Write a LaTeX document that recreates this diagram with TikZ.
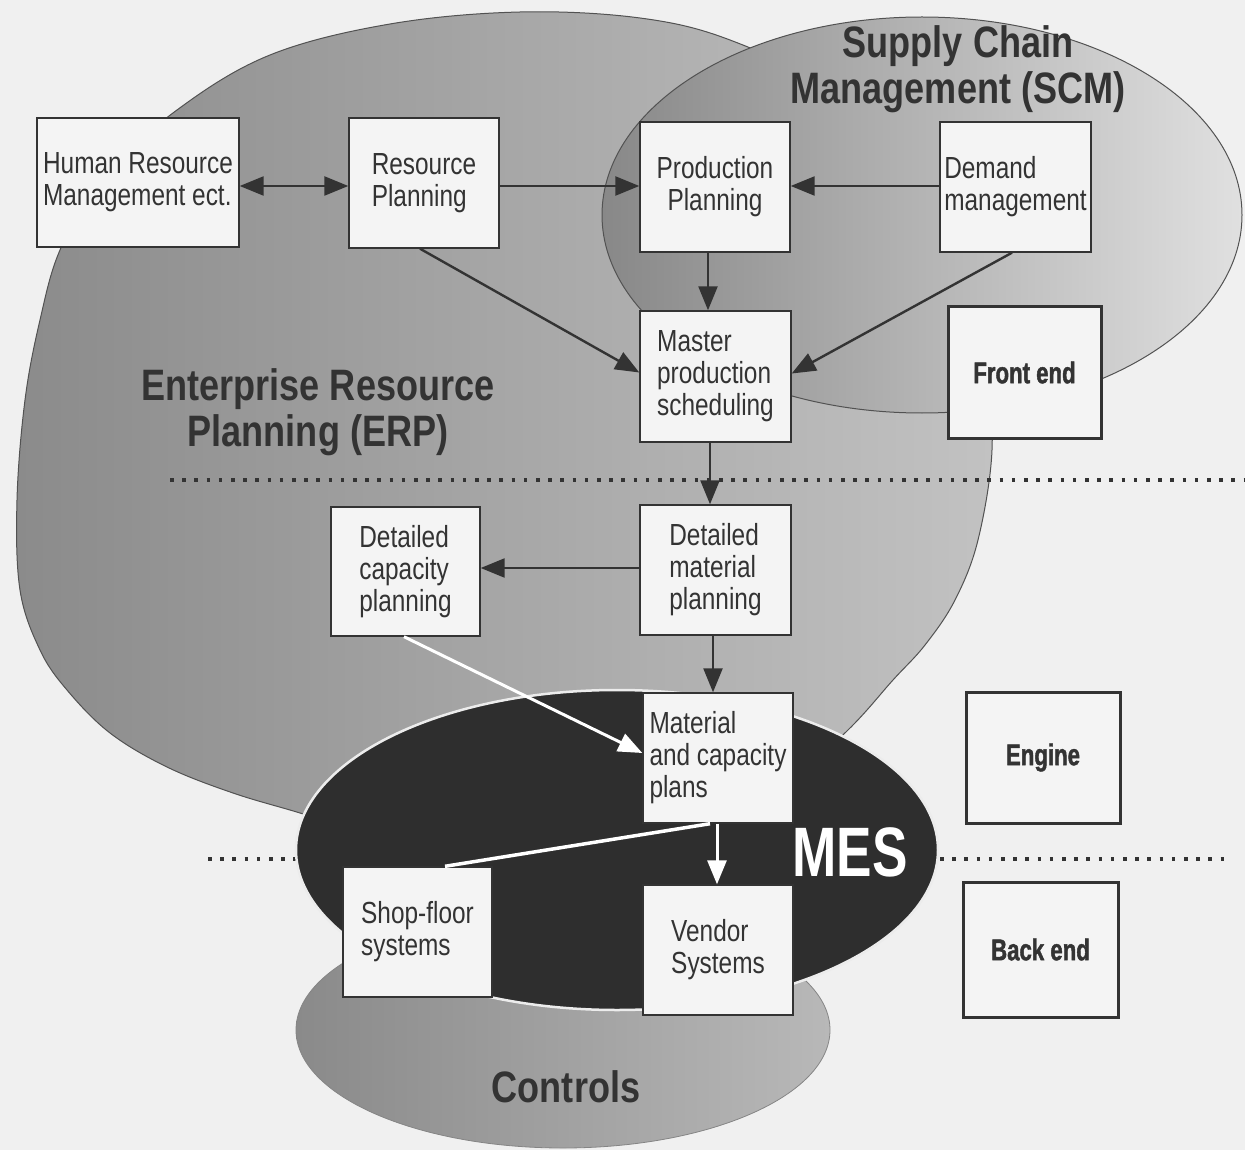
\documentclass[tikz,border=0pt]{standalone}
\usepackage{fontspec}
\setmainfont{Liberation Sans}[FakeStretch=0.80]
\newfontfamily\titlefont{Liberation Sans}[FakeStretch=0.82]
\newfontfamily\mesfont{Liberation Sans}[FakeStretch=0.76]
\newfontfamily\heavyfont{Liberation Sans}[FakeStretch=0.74,FakeBold=1.4]
\usetikzlibrary{arrows.meta,calc}
\definecolor{bgc}{HTML}{F0F0F0}
\definecolor{ink}{HTML}{333333}
\definecolor{boxfill}{HTML}{F4F4F4}
\definecolor{erpL}{HTML}{8B8B8B}
\definecolor{erpR}{HTML}{C2C2C2}
\definecolor{scmL}{HTML}{888888}
\definecolor{scmR}{HTML}{E0E0E0}
\definecolor{ctlL}{HTML}{8A8A8A}
\definecolor{ctlR}{HTML}{B8B8B8}
\definecolor{mesc}{HTML}{2E2E2E}
\begin{document}
\begin{tikzpicture}[x=1pt,y=-1pt,
  box/.style={draw=ink, line width=1.4pt, fill=boxfill, inner sep=0pt, text=ink,
    font=\fontsize{30.5}{32}\selectfont, align=left},
  tbox/.style={draw=ink, line width=3pt, fill=boxfill, inner sep=0pt, text=ink,
    font=\heavyfont\bfseries\fontsize{30}{32}\selectfont},
  arr/.style={draw=ink, line width=2.4pt, -{Triangle[length=24pt,width=19pt]}},
  darr/.style={draw=ink, line width=2.4pt, {Triangle[length=24pt,width=19pt]}-{Triangle[length=24pt,width=19pt]}},
  warr/.style={draw=white, line width=3pt, -{Triangle[length=24pt,width=19pt,fill=white]}},
  wline/.style={draw=white, line width=3.5pt},
  dotline/.style={draw=ink, line width=3.5pt, dash pattern=on 3.5pt off 8.7pt},
  bigtitle/.style={text=ink, font=\titlefont\bfseries\fontsize{44}{46.5}\selectfont, align=center, inner sep=0pt}
]
\useasboundingbox (0,0) rectangle (1245,1150);
\fill[bgc] (0,0) rectangle (1245,1150);

% ERP region
\path[draw=ink!85, line width=1pt, left color=erpL, right color=erpR]
  plot[smooth cycle, tension=0.6] coordinates {
  (520,12) (640,18) (730,40) (830,90) (910,170) (960,270) (985,370) (992,450)
  (978,540) (955,600) (925,645) (893,680) (848,730) (780,790) (700,830)
  (600,850) (470,850) (370,835) (300,813) (233,793) (167,767) (110,733)
  (67,690) (40,650) (20,590) (17,500) (25,400) (40,320) (60,250) (100,180)
  (177,110) (270,55) (390,24)};

% SCM region
\path[draw=ink!85, line width=1pt, left color=scmL, right color=scmR]
  (922,215) ellipse [x radius=320, y radius=198];

% dotted separators
\draw[dotline] (170,480) -- (1245,480);
\draw[dotline] (208,859) -- (1228,859);

% Controls and MES
\path[draw=ink!60, line width=0.8pt, left color=ctlL, right color=ctlR]
  (563,1030) ellipse [x radius=267, y radius=118];
\path[fill=mesc, draw=white!85!gray, line width=2.5pt]
  (617,850) ellipse [x radius=321, y radius=160];

% region titles
\node[bigtitle] (erpt) at (318,412) {Enterprise Resource\\Planning (ERP)};
\node[bigtitle] (scmt) at (958,69) {Supply Chain\\Management (SCM)};
\node[bigtitle] (ctlt) at (566,1087) {Controls};
\node[text=white, inner sep=0pt, font=\mesfont\bfseries\fontsize{70}{70}\selectfont] (mest) at (850,852) {MES};

% boxes
\node[box, minimum width=202, minimum height=129] (hr) at (138,182.5) {Human Resource\\Management ect.};
\node[box, minimum width=150, minimum height=130] (rp) at (424,183) {Resource\\Planning};
\node[box, minimum width=150, minimum height=130, align=center] (pp) at (715,187) {Production\\Planning};
\node[box, minimum width=151, minimum height=130] (dm) at (1015.5,187) {Demand\\management};
\node[box, minimum width=151, minimum height=131] (mps) at (715.5,376.5) {Master\\production\\scheduling};
\node[tbox, minimum width=153, minimum height=131] (fe) at (1024.5,372.5) {Front end};
\node[box, minimum width=149, minimum height=129] (dcp) at (405.5,571.5) {Detailed\\capacity\\planning};
\node[box, minimum width=151, minimum height=130] (dmp) at (715.5,570) {Detailed\\material\\planning};
\node[box, minimum width=150, minimum height=130] (mcp) at (718,758) {Material\\and capacity\\plans};
\node[tbox, minimum width=154, minimum height=131] (eng) at (1043,757.5) {Engine};
\node[box, minimum width=149, minimum height=130] (sfs) at (417.5,932) {Shop-floor\\systems};
\node[box, minimum width=150, minimum height=130] (vs) at (718,950) {Vendor\\Systems};
\node[tbox, minimum width=155, minimum height=135] (be) at (1040.5,949.5) {Back end};

% black connectors
\draw[darr] ($(hr.east)+(0,3.5)$) -- ($(rp.west)+(0,3)$);
\draw[arr] ($(rp.east)+(0,3)$) -- ($(pp.west)+(0,-1)$);
\draw[arr] ($(dm.west)+(0,-1)$) -- ($(pp.east)+(0,-1)$);
\draw[arr] ($(pp.south)+(-7,0)$) -- ($(mps.north)+(-7.5,0)$);
\draw[arr] ($(rp.south)+(-4,0)$) -- ($(mps.west)+(0,-4)$);
\draw[arr] ($(dm.south)+(-3.5,0)$) -- ($(mps.east)+(0,-3)$);
\draw[arr] ($(mps.south)+(-5.5,0)$) -- ($(dmp.north)+(-5.5,0)$);
\draw[arr] ($(dmp.west)+(0,-2)$) -- ($(dcp.east)+(0,-3.5)$);
\draw[arr] ($(dmp.south)+(-2.5,0)$) -- ($(mcp.north)+(-5,0)$);

% white connectors
\draw[warr] ($(dcp.south)+(-1.5,0)$) -- ($(mcp.west)+(0,-5)$);
\draw[warr] ($(mcp.south)+(-1,0)$) -- ($(vs.north)+(-1,0)$);
\draw[wline] ($(mcp.south)+(-8,0)$) -- ($(sfs.north)+(27.5,0)$);
\end{tikzpicture}
\end{document}
